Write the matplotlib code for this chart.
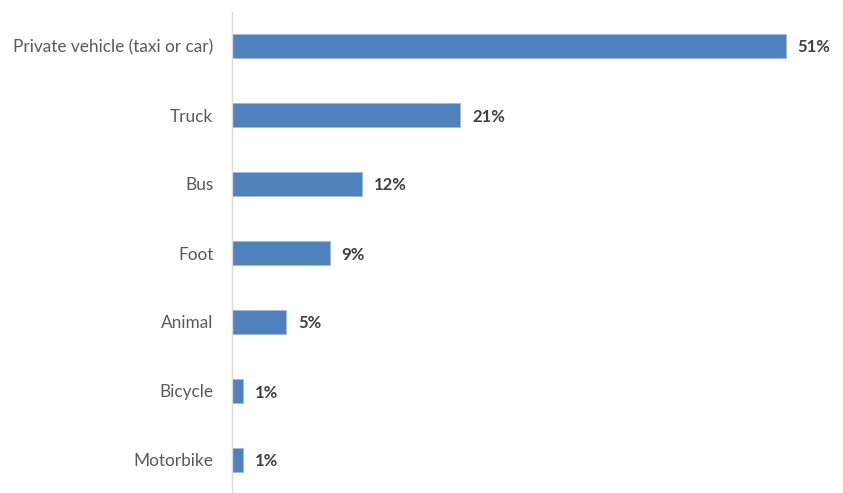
import matplotlib
matplotlib.use("Agg")
import matplotlib.pyplot as plt

categories = ["Private vehicle (taxi or car)", "Truck", "Bus", "Foot",
              "Animal", "Bicycle", "Motorbike"]
shares = [51, 21, 12, 9, 5, 1, 1]

plt.rcParams["font.family"] = ["Lato", "DejaVu Sans"]

fig = plt.figure(figsize=(8.43, 4.93), dpi=100)
W, H = 843, 493
left, right, top, bottom = 232, 830, 11.5, 493
ax = fig.add_axes([left / W, 1 - bottom / H, (right - left) / W, (bottom - top) / H])

ypos = list(range(len(categories)))
ax.barh(ypos, shares, height=0.36, color="#4f81bd", edgecolor="#9dbbe0", linewidth=0.6)

ax.set_xlim(0, 55.1)
ax.set_ylim(len(categories) - 0.5 - 1.5 / 69, -0.5)

# percentage labels just past the end of each bar
for y, v in zip(ypos, shares):
    ax.annotate(f"{v}%", xy=(v, y), xytext=(12, -1.5), textcoords="offset pixels",
                va="center", ha="left", fontsize=12, fontweight="bold", color="#404040")

ax.set_yticks(ypos)
ax.set_yticklabels(categories, fontsize=12.4, color="#595959")
ax.tick_params(axis="y", length=0, pad=13.5)
ax.set_xticks([])

for s in ["top", "right", "bottom"]:
    ax.spines[s].set_visible(False)
ax.spines["left"].set_color("#d9d9d9")
ax.spines["left"].set_linewidth(1.0)

fig.savefig("out.png", dpi=100)
